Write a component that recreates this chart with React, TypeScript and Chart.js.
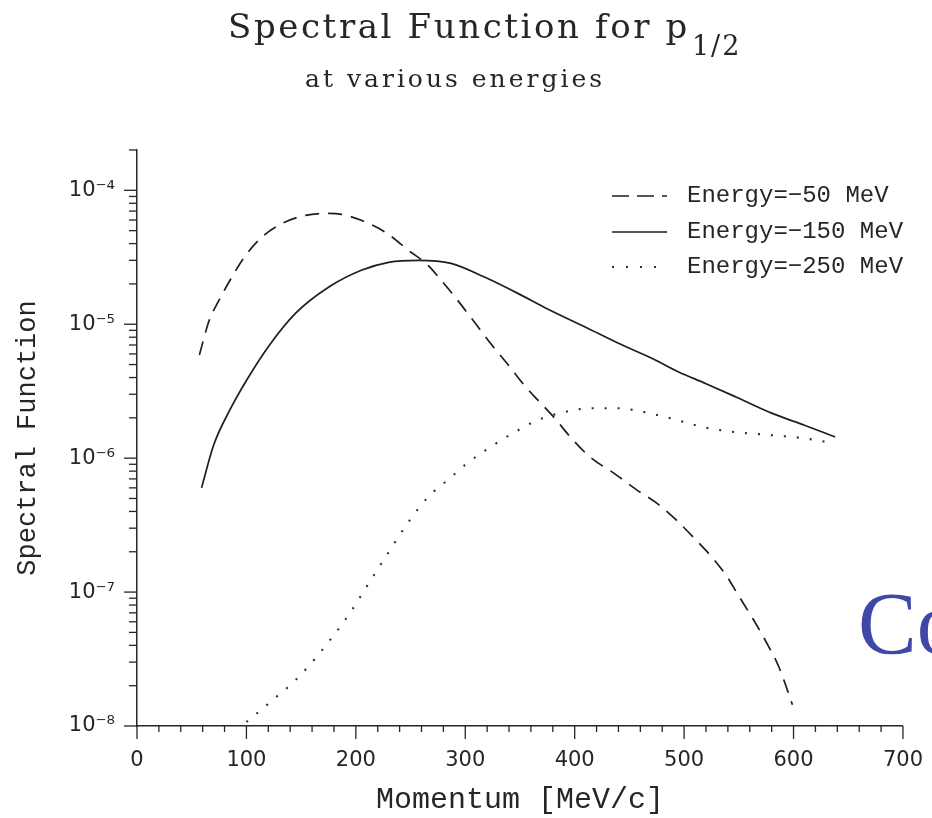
import React, { useEffect, useRef } from 'react';
import { Chart, registerables } from 'chart.js';

Chart.register(...registerables);

// ---- Data ----
const momentumE50 = [57, 66, 74, 85, 98, 114, 133, 154, 175, 187, 205, 227, 248, 266, 278, 293, 309, 323, 339, 354, 369, 381, 396, 414, 436, 457, 475, 493, 511, 527, 539, 550, 563, 575, 587, 599];
const valuesE50 = [5.9e-6, 1.07e-5, 1.46e-5, 2.13e-5, 3.16e-5, 4.46e-5, 5.67e-5, 6.5e-5, 6.73e-5, 6.62e-5, 5.97e-5, 4.86e-5, 3.57e-5, 2.75e-5, 2.13e-5, 1.51e-5, 1.02e-5, 7.2e-6, 5.0e-6, 3.5e-6, 2.57e-6, 2.02e-6, 1.44e-6, 1.02e-6, 7.7e-7, 5.77e-7, 4.61e-7, 3.44e-7, 2.44e-7, 1.76e-7, 1.31e-7, 9.33e-8, 6.29e-8, 4.24e-8, 2.71e-8, 1.44e-8];

const momentumE150 = [59, 70, 85, 100, 120, 145, 175, 205, 230, 257, 287, 318, 348, 372, 410, 440, 470, 495, 520, 550, 580, 610, 638];
const valuesE150 = [6.0e-7, 1.25e-6, 2.3e-6, 3.8e-6, 6.8e-6, 1.21e-5, 1.89e-5, 2.53e-5, 2.9e-5, 3.0e-5, 2.85e-5, 2.24e-5, 1.7e-5, 1.34e-5, 9.5e-6, 7.2e-6, 5.6e-6, 4.4e-6, 3.6e-6, 2.8e-6, 2.17e-6, 1.76e-6, 1.44e-6];

const momentumE250 = [100, 112, 123, 142, 157, 175, 194, 212, 230, 248, 266, 286, 302, 323, 345, 366, 391, 414, 439, 463, 487, 518, 548, 578, 609, 637];
const valuesE250 = [1.07e-8, 1.29e-8, 1.54e-8, 2.09e-8, 2.81e-8, 4.24e-8, 6.86e-8, 1.17e-7, 1.99e-7, 3.33e-7, 5.12e-7, 7.1e-7, 9.2e-7, 1.21e-6, 1.56e-6, 1.92e-6, 2.21e-6, 2.36e-6, 2.36e-6, 2.21e-6, 1.99e-6, 1.70e-6, 1.56e-6, 1.49e-6, 1.41e-6, 1.29e-6];

const seriesLabels = ['Energy=\u221250 MeV', 'Energy=\u2212150 MeV', 'Energy=\u2212250 MeV'];
const xTickLabels = [0, 100, 200, 300, 400, 500, 600, 700];
const yTickExponents = [-8, -7, -6, -5, -4];

const TITLE_MAIN = 'Spectral Function for p';
const TITLE_SUB = '1/2';
const SUBTITLE = 'at various energies';
const X_TITLE = 'Momentum [MeV/c]';
const Y_TITLE = 'Spectral Function';
const SIDE_TEXT = 'Co';

// ---- Styles ----
const INK = '#262626';
const LINE_INK = '#1e1e1e';
const MONO = '"Liberation Mono", "Courier New", monospace';
const SERIF = '"DejaVu Serif", serif';
const SANS = '"DejaVu Sans", sans-serif';

const SUP: Record<string, string> = { '-': '\u207B', '0': '\u2070', '1': '\u00B9', '2': '\u00B2', '3': '\u00B3', '4': '\u2074', '5': '\u2075', '6': '\u2076', '7': '\u2077', '8': '\u2078', '9': '\u2079' };
const sup = (n: number) => String(n).split('').map((c) => SUP[c] || c).join('');

const isPow10 = (v: number) => {
  const e = Math.log10(v);
  return Math.abs(e - Math.round(e)) < 1e-6;
};
const isIntMantissa = (v: number) => {
  const e = Math.floor(Math.log10(v) + 1e-9);
  const m = v / Math.pow(10, e);
  return Math.abs(m - Math.round(m)) < 1e-6;
};

const legendDashes = [[17, 8], [], [2, 12]];

const axisTicksPlugin = {
  id: 'axisTicks',
  afterDraw(chart: any) {
    const { ctx } = chart;
    const xs = chart.scales.x;
    const ys = chart.scales.y;
    ctx.save();
    ctx.strokeStyle = INK;
    ctx.lineWidth = 1.3;
    ctx.setLineDash([]);
    xs.ticks.forEach((t: any) => {
      const px = xs.getPixelForValue(t.value);
      const major = xTickLabels.includes(t.value);
      ctx.beginPath();
      ctx.moveTo(px, xs.top);
      ctx.lineTo(px, xs.top + (major ? 13 : 6));
      ctx.stroke();
    });
    ys.ticks.forEach((t: any) => {
      if (!isIntMantissa(t.value)) return;
      const py = ys.getPixelForValue(t.value);
      const major = isPow10(t.value);
      ctx.beginPath();
      ctx.moveTo(ys.right, py);
      ctx.lineTo(ys.right - (major ? 13 : 8), py);
      ctx.stroke();
    });
    ctx.restore();
  },
};

const textPlugin = {
  id: 'textDecor',
  afterDraw(chart: any) {
    const { ctx } = chart;
    ctx.save();
    ctx.fillStyle = INK;
    ctx.textAlign = 'left';
    ctx.textBaseline = 'alphabetic';
    // Title with subscript
    (ctx as any).letterSpacing = '2.6px';
    ctx.font = `34px ${SERIF}`;
    ctx.fillText(TITLE_MAIN, 228, 38);
    const w = ctx.measureText(TITLE_MAIN).width;
    (ctx as any).letterSpacing = '2px';
    ctx.font = `27px ${SERIF}`;
    ctx.fillText(TITLE_SUB, 228 + w + 2, 55);
    (ctx as any).letterSpacing = '3px';
    ctx.font = `25px ${SERIF}`;
    ctx.fillText(SUBTITLE, 305, 87);
    (ctx as any).letterSpacing = '0px';

    // Legend
    const rows = [196, 232, 267];
    chart.data.datasets.forEach((ds: any, i: number) => {
      const y = rows[i];
      ctx.save();
      ctx.strokeStyle = ds.borderColor;
      ctx.lineWidth = i === 2 ? 2 : 1.6;
      ctx.setLineDash(legendDashes[i]);
      ctx.beginPath();
      ctx.moveTo(612, y);
      ctx.lineTo(667, y);
      ctx.stroke();
      ctx.restore();
      ctx.font = `24px ${MONO}`;
      ctx.textBaseline = 'middle';
      ctx.fillStyle = INK;
      ctx.fillText(ds.label, 687, y);
    });

    // Side text from the slide
    ctx.font = `88px "Liberation Serif", serif`;
    ctx.fillStyle = '#3f48a6';
    ctx.textBaseline = 'alphabetic';
    ctx.fillText(SIDE_TEXT, 858, 653);
    ctx.restore();
  },
};

export default function App() {
  const ref = useRef<HTMLCanvasElement | null>(null);
  useEffect(() => {
    if (!ref.current) return;
    const mk = (xs: number[], ys: number[]) => xs.map((x, i) => ({ x, y: ys[i] }));
    const chart = new Chart(ref.current, {
      type: 'line',
      data: {
        datasets: [
          { label: seriesLabels[0], data: mk(momentumE50, valuesE50), borderColor: LINE_INK, borderWidth: 1.7, borderDash: [14, 9], pointRadius: 0, cubicInterpolationMode: 'monotone', fill: false },
          { label: seriesLabels[1], data: mk(momentumE150, valuesE150), borderColor: LINE_INK, borderWidth: 1.7, borderDash: [], pointRadius: 0, cubicInterpolationMode: 'monotone', fill: false },
          { label: seriesLabels[2], data: mk(momentumE250, valuesE250), borderColor: '#2e2e2e', borderWidth: 2.1, borderDash: [2, 11], pointRadius: 0, cubicInterpolationMode: 'monotone', fill: false },
        ],
      },
      options: {
        responsive: false,
        animation: false,
        events: [],
        layout: { padding: { left: 0, top: 150, right: 24, bottom: 0 } },
        plugins: { legend: { display: false }, title: { display: false }, tooltip: { enabled: false } },
        scales: {
          x: {
            type: 'linear',
            min: 0,
            max: 700,
            ticks: {
              stepSize: 20,
              autoSkip: false,
              maxRotation: 0,
              padding: 9,
              color: INK,
              font: { family: SANS, size: 21 },
              callback: (v: any) => (xTickLabels.includes(Number(v)) ? String(v) : ''),
            },
            grid: { display: false, drawTicks: true, tickLength: 13 },
            border: { display: true, color: INK, width: 1.5 },
            title: { display: true, text: X_TITLE, color: INK, font: { family: MONO, size: 30 }, padding: { top: 0, bottom: 0 } },
            afterFit: (s: any) => { s.height = 92; },
          },
          y: {
            type: 'logarithmic',
            min: 1e-8,
            max: 2e-4,
            ticks: {
              autoSkip: false,
              padding: 9,
              color: INK,
              font: { family: SANS, size: 21 },
              callback: (v: any) => {
                const n = Number(v);
                if (!isPow10(n)) return '';
                const e = Math.round(Math.log10(n));
                return yTickExponents.includes(e) ? '10' + sup(e) : '';
              },
            },
            grid: { display: false, drawTicks: true, tickLength: 13 },
            border: { display: true, color: INK, width: 1.5 },
            title: { display: true, text: Y_TITLE, color: INK, font: { family: MONO, size: 27 }, padding: { top: 12, bottom: 0 } },
            afterFit: (s: any) => { s.width = 137; },
          },
        },
      },
      plugins: [axisTicksPlugin, textPlugin],
    });
    return () => chart.destroy();
  }, []);
  return (
    <div style={{ position: 'absolute', left: 0, top: 0, width: 932, height: 818, background: '#fff' }}>
      <canvas ref={ref} width={932} height={818} style={{ width: 932, height: 818, display: 'block' }} />
    </div>
  );
}
